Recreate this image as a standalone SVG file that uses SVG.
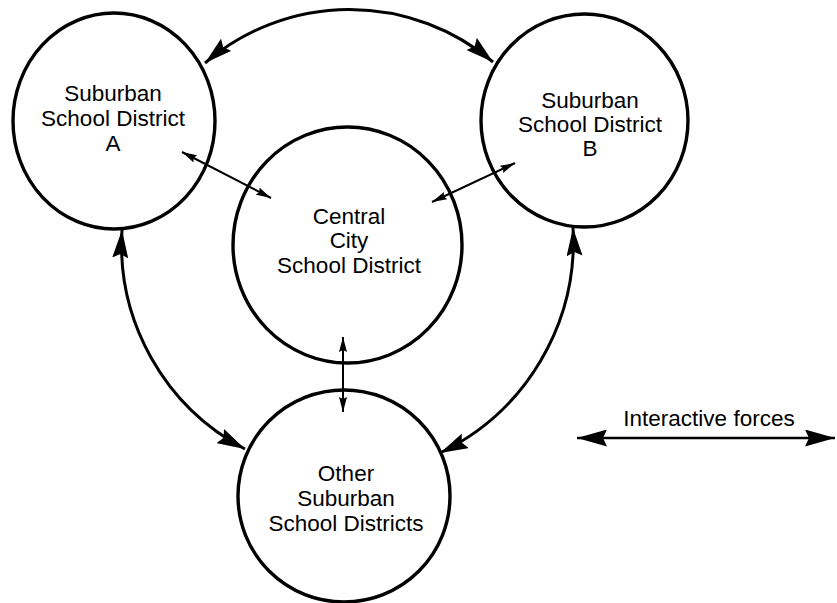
<svg xmlns="http://www.w3.org/2000/svg" width="837" height="603" viewBox="0 0 837 603">
<style>
.node ellipse{fill:none;stroke:#000;stroke-width:3.4}
text{font-family:"Liberation Sans",Arial,Helvetica,sans-serif;font-size:22.5px;fill:#000;text-anchor:middle}
.big{fill:none;stroke:#000;stroke-width:3}
.small{fill:none;stroke:#000;stroke-width:2}
</style>
<defs>
<marker id="hb" viewBox="0 0 28 16" refX="28" refY="8" markerWidth="28" markerHeight="16" markerUnits="userSpaceOnUse" orient="auto-start-reverse">
<path d="M0,0 L28,8 L0,16 L4,8 z" fill="#000"/>
</marker>
<marker id="hs" viewBox="0 0 15 8" refX="15" refY="4" markerWidth="15" markerHeight="8" markerUnits="userSpaceOnUse" orient="auto-start-reverse">
<path d="M0,0 L15,4 L0,8 L2,4 z" fill="#000"/>
</marker>
<marker id="hl" viewBox="0 0 30 17" refX="30" refY="8.5" markerWidth="30" markerHeight="17" markerUnits="userSpaceOnUse" orient="auto-start-reverse">
<path d="M0,0 L30,8.5 L0,17 L4,8.5 z" fill="#000"/>
</marker>
</defs>
<g id="connectors">
<path class="big" d="M205,63 A222,222 0 0 1 493,62" marker-start="url(#hb)" marker-end="url(#hb)"/>
<path class="big" d="M122,230 A231,231 0 0 0 245,449" marker-start="url(#hb)" marker-end="url(#hb)"/>
<path class="big" d="M573,228 A235,235 0 0 1 440,453" marker-start="url(#hb)" marker-end="url(#hb)"/>
<path class="small" d="M182,152 L271,198" marker-start="url(#hs)" marker-end="url(#hs)"/>
<path class="small" d="M432,202 L515,163" marker-start="url(#hs)" marker-end="url(#hs)"/>
<path class="small" d="M343,337 L343,412" marker-start="url(#hs)" marker-end="url(#hs)"/>
</g>
<g id="nodeA" class="node">
<ellipse cx="114" cy="121" rx="101" ry="108"/>
<text x="113" y="101">Suburban</text>
<text x="113" y="126">School District</text>
<text x="113" y="151">A</text>
</g>
<g id="nodeB" class="node">
<ellipse cx="584.5" cy="120.5" rx="103.5" ry="106.5"/>
<text x="590" y="108">Suburban</text>
<text x="590" y="132">School District</text>
<text x="590" y="156">B</text>
</g>
<g id="nodeCentral" class="node">
<ellipse cx="347.5" cy="245" rx="114.5" ry="118"/>
<text x="349" y="224">Central</text>
<text x="349" y="248">City</text>
<text x="349" y="273">School District</text>
</g>
<g id="nodeOther" class="node">
<ellipse cx="344" cy="496" rx="106" ry="106"/>
<text x="346" y="481">Other</text>
<text x="346" y="506">Suburban</text>
<text x="346" y="531">School Districts</text>
</g>
<g id="legend">
<path d="M577,438 L835,438" fill="none" stroke="#000" stroke-width="2.5" marker-start="url(#hl)" marker-end="url(#hl)"/>
<text x="709" y="426">Interactive forces</text>
</g>
</svg>
